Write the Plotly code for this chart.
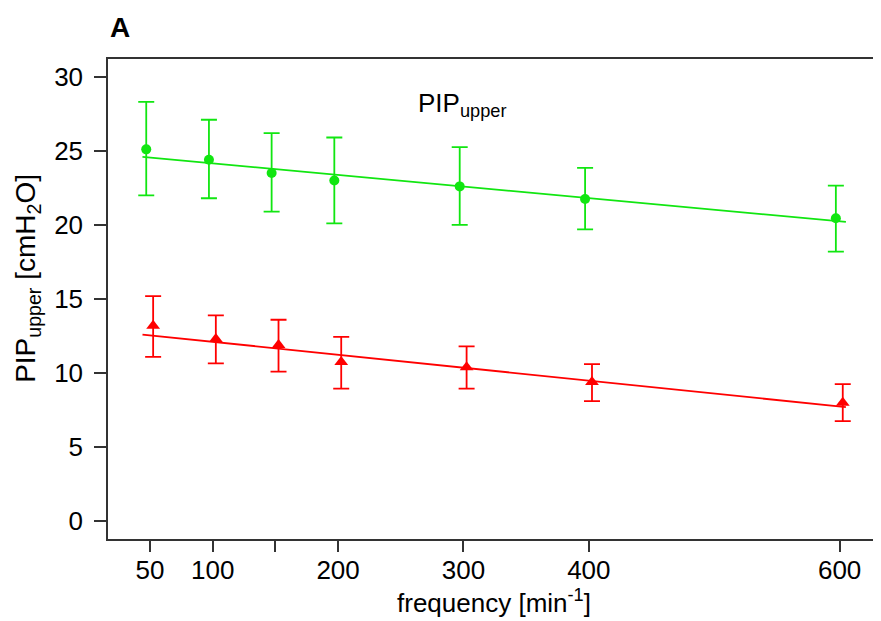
import plotly.graph_objects as go

# ---- data ----
freq = [50, 100, 150, 200, 300, 400, 600]
tick_vals = [50, 100, 150, 200, 300, 400, 600]
tick_text = ["50", "100", "", "200", "300", "400", "600"]
y_ticks = [0, 5, 10, 15, 20, 25, 30]

green_dodge = -3.0
red_dodge = 2.5

green_mean = [25.1, 24.4, 23.5, 23.0, 22.6, 21.75, 20.45]
green_upper = [28.3, 27.1, 26.2, 25.9, 25.25, 23.85, 22.65]
green_lower = [22.0, 21.8, 20.9, 20.1, 20.0, 19.7, 18.2]

red_mean = [13.2, 12.3, 11.9, 10.75, 10.4, 9.4, 8.0]
red_upper = [15.2, 13.9, 13.6, 12.45, 11.8, 10.6, 9.25]
red_lower = [11.1, 10.65, 10.1, 8.95, 8.95, 8.1, 6.75]

fit_x = [44, 605]
green_fit = [24.6, 20.2]
red_fit = [12.6, 7.7]

GREEN = "#11e611"
RED = "#ff0000"
AXIS = "#333333"
FONT = "Liberation Sans, Arial, Helvetica, sans-serif"
FS = 26

fig = go.Figure()

def add_series(mean, upper, lower, dodge, fit, color, symbol, size):
    xs = [f + dodge for f in freq]
    fig.add_trace(go.Scatter(
        x=fit_x, y=fit, mode="lines",
        line=dict(color=color, width=1.8), hoverinfo="skip", showlegend=False))
    fig.add_trace(go.Scatter(
        x=xs, y=mean, mode="markers",
        marker=dict(color=color, symbol=symbol, size=size, line=dict(width=0)),
        error_y=dict(type="data", symmetric=False,
                     array=[u - m for u, m in zip(upper, mean)],
                     arrayminus=[m - l for m, l in zip(mean, lower)],
                     color=color, thickness=1.8, width=8),
        showlegend=False))

add_series(green_mean, green_upper, green_lower, green_dodge, green_fit, GREEN, "circle", 10)
add_series(red_mean, red_upper, red_lower, red_dodge, red_fit, RED, "triangle-up", 12)

fig.update_layout(
    width=873, height=613,
    margin=dict(l=100, r=0, t=51, b=82),
    paper_bgcolor="white", plot_bgcolor="white",
    font=dict(family=FONT, size=FS, color="black"),
    xaxis=dict(range=[16.5, 633], tickvals=tick_vals, ticktext=tick_text,
               showgrid=False, zeroline=False, showline=True, linecolor=AXIS,
               linewidth=1.5, mirror=True, ticks="outside", ticklen=11,
               tickwidth=1.5, tickcolor=AXIS, tickfont=dict(size=FS),
               ticklabelstandoff=-4),
    yaxis=dict(range=[-1.2, 31.2], tickvals=y_ticks,
               showgrid=False, zeroline=False, showline=True, linecolor=AXIS,
               linewidth=1.5, ticks="outside", ticklen=12, tickwidth=1.5,
               tickcolor=AXIS, tickfont=dict(size=FS), ticklabelstandoff=6),
    annotations=[
        dict(text="<b>A</b>", x=0.0, y=1.066, xref="paper", yref="paper",
             xanchor="left", yanchor="middle", showarrow=False,
             font=dict(size=28, color="black")),
        dict(text="PIP<sub>upper</sub>", x=0.398, y=0.905, xref="paper",
             yref="paper", xanchor="left", yanchor="middle", showarrow=False,
             font=dict(size=FS)),
        dict(text="PIP<sub>upper</sub> [cmH<sub>2</sub>O]", x=-0.1035, y=0.544,
             xref="paper", yref="paper", xanchor="center", yanchor="middle",
             textangle=-90, showarrow=False, font=dict(size=28)),
        dict(text="frequency [min<sup>-1</sup>]", x=0.4994, y=-0.13,
             xref="paper", yref="paper", xanchor="center", yanchor="middle",
             showarrow=False, font=dict(size=FS)),
    ],
)

fig.write_html("out.html")
